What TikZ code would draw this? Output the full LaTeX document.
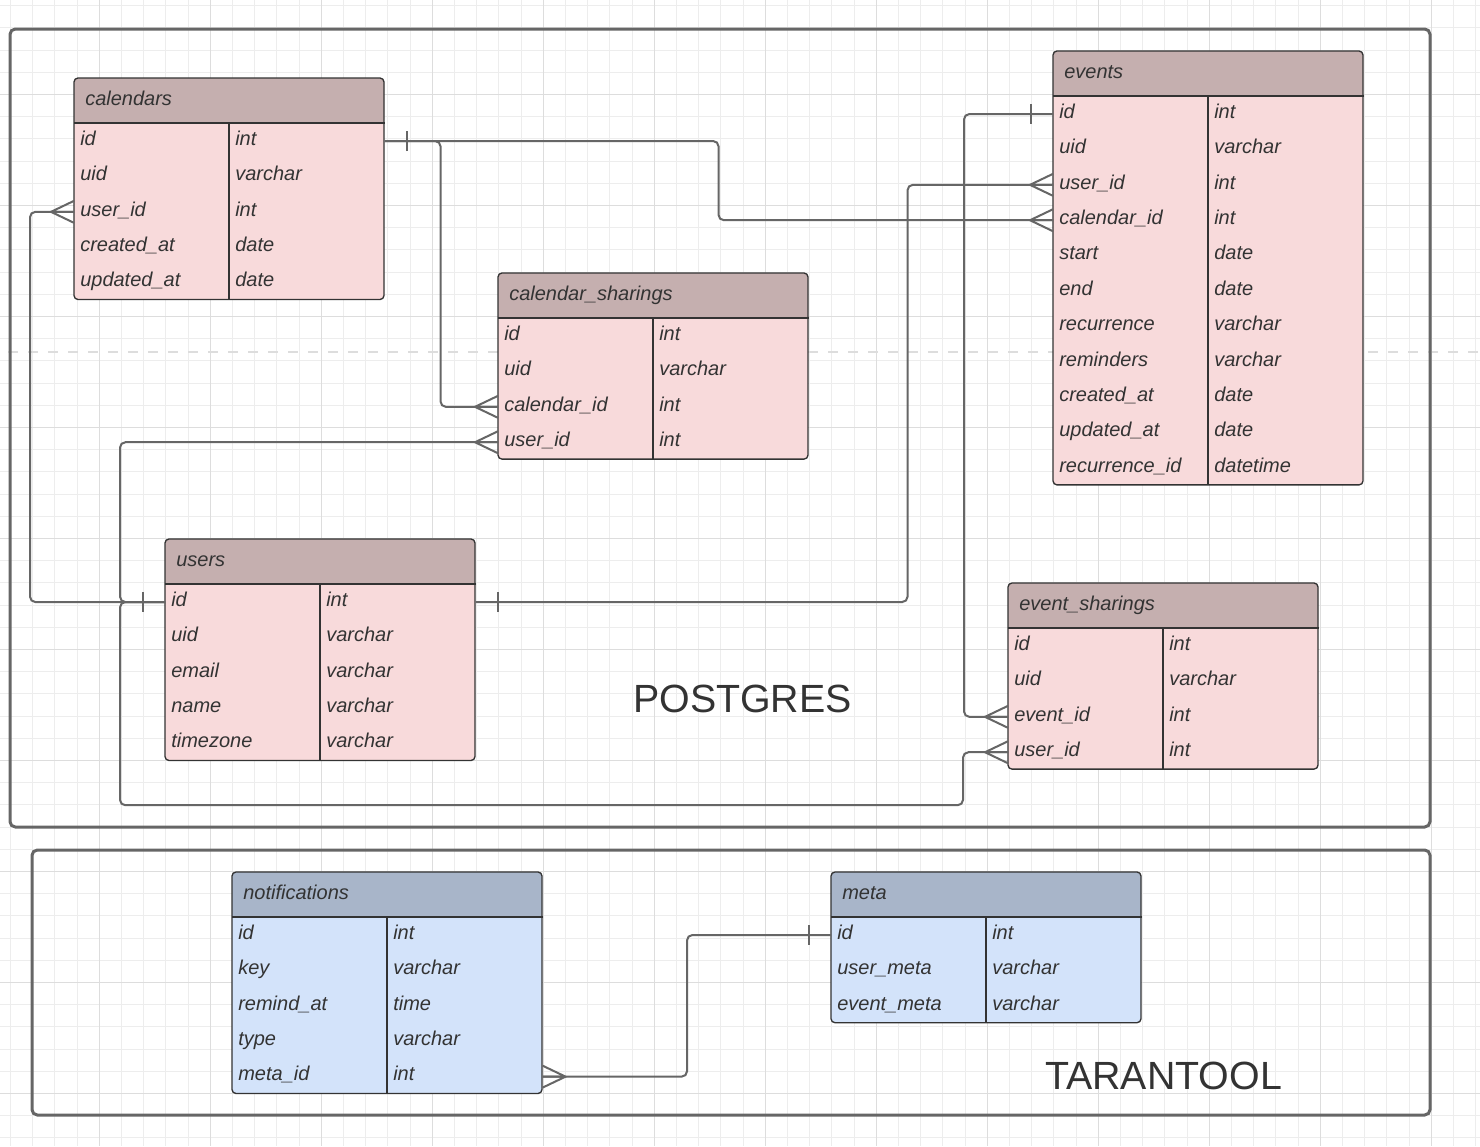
\documentclass[tikz,border=0pt]{standalone}
\usepackage{fontspec}
\setmainfont{Liberation Sans}
\usetikzlibrary{calc}

\definecolor{pghead}{HTML}{C5AFAF}
\definecolor{pgbody}{HTML}{F8DADB}
\definecolor{tthead}{HTML}{A8B5C9}
\definecolor{ttbody}{HTML}{D3E3FA}
\definecolor{inkgray}{HTML}{333333}
\definecolor{relgray}{HTML}{666666}
\definecolor{gridminorc}{HTML}{EDEDED}
\definecolor{gridmajorc}{HTML}{DDDDDD}

\tikzset{
  gridminor/.style={draw=gridminorc, line width=0.75pt},
  gridmajor/.style={draw=gridmajorc, line width=0.9pt},
  pagebreak/.style={draw=gridmajorc, line width=2pt, dash pattern=on 7.5pt off 7.5pt},
  dbframe/.style={draw=relgray, line width=2.25pt, rounded corners=4pt},
  dbname/.style={text=inkgray, font=\fontsize{29.5pt}{32pt}\selectfont},
  tblline/.style={draw=inkgray, line width=1pt},
  tblhead/.style={anchor=north west, minimum width=232.5pt, minimum height=33.4pt,
    text width=216pt, inner xsep=8.25pt, align=left, text height=7pt, text depth=0pt,
    text=inkgray, font=\fontsize{15pt}{18pt}\selectfont\itshape},
  tblrow/.style={anchor=north west, minimum width=232.5pt, minimum height=26.55pt,
    text width=223.5pt, inner xsep=4.5pt, inner ysep=0pt, align=left,
    text height=6.5pt, text depth=0pt, text=inkgray, font=\fontsize{15pt}{18pt}\selectfont\itshape},
  tbltype/.style={anchor=west, inner xsep=4.5pt, inner ysep=0pt, text height=6.5pt,
    text depth=0pt, text=inkgray, font=\fontsize{15pt}{18pt}\selectfont\itshape},
  rel/.style={draw=relgray, line width=1.5pt, rounded corners=4pt},
  crowfoot/.pic={\draw[rel, sharp corners] (0,-11) -- (-23,0) -- (0,11) (-23,0) -- (0,0);},
  onebar/.pic={\draw[rel, sharp corners] (-22,-10) -- (-22,10);}
}

% #1 name, #2 top left, #3 pg/tt, #4 number of rows, #5 fields
\newcommand{\dbtable}[5]{%
  \fill[#3body, rounded corners=3pt] #2 rectangle ++(310,{44.5+#4*35.4});
  \fill[#3head, rounded corners=3pt] #2 rectangle ++(310,44.5);
  \fill[#3head] ($#2+(0,22)$) rectangle ++(310,22.5);
  \draw[tblline, rounded corners=3pt] #2 rectangle ++(310,{44.5+#4*35.4});
  \node[tblhead] (#1) at #2 {#1};
  \draw[tblline] (#1.south west) -- (#1.south east);
  \draw[tblline] ($(#1.south west)+(155,0)$) -- ++(0,{#4*35.4});
  \foreach \fld/\typ [count=\i] in {#5} {
    \node[tblrow] (#1-\fld) at ($(#1.south west)+(0,{(\i-1)*35.4})$) {\fld};
    \node[tbltype] (#1-\fld-t) at ($(#1-\fld.west)+(155,0)$) {\typ};
  }
}

\begin{document}
\catcode`\_=12
\begin{tikzpicture}[x=0.75pt, y=-0.75pt]
  \useasboundingbox (0,0) rectangle (1480,1146);
  \fill[white] (0,0) rectangle (1480,1146);
  % grid
  \foreach \k in {1,...,67} \draw[gridminor] ({-11.7+22.2*\k},0) -- ++(0,1146);
  \foreach \k in {1,...,52} \draw[gridminor] (0,{-16.6+22.2*\k}) -- ++(1480,0);
  \foreach \k in {1,...,13} \draw[gridmajor] ({-11.7+111*\k},0) -- ++(0,1146);
  \foreach \k in {1,...,10} \draw[gridmajor] (0,{-16.6+111*\k}) -- ++(1480,0);
  \draw[pagebreak] (-11.7,352) -- (1480,352);

  % databases
  \draw[dbframe] (10,29) rectangle (1430,827);
  \draw[dbframe] (32,850) rectangle (1430,1115);
  \node[dbname] (postgres) at (742.5,699) {POSTGRES};
  \node[dbname] (tarantool) at (1163.5,1076) {TARANTOOL};

  % tables
  \dbtable{calendars}{(74,78)}{pg}{5}{id/int, uid/varchar, user_id/int, created_at/date, updated_at/date}
  \dbtable{calendar_sharings}{(498,273)}{pg}{4}{id/int, uid/varchar, calendar_id/int, user_id/int}
  \dbtable{events}{(1053,51)}{pg}{11}{id/int, uid/varchar, user_id/int, calendar_id/int, start/date, end/date, recurrence/varchar, reminders/varchar, created_at/date, updated_at/date, recurrence_id/datetime}
  \dbtable{users}{(165,539)}{pg}{5}{id/int, uid/varchar, email/varchar, name/varchar, timezone/varchar}
  \dbtable{event_sharings}{(1008,583)}{pg}{4}{id/int, uid/varchar, event_id/int, user_id/int}
  \dbtable{notifications}{(232,872)}{tt}{5}{id/int, key/varchar, remind_at/time, type/varchar, meta_id/int}
  \dbtable{meta}{(831,872)}{tt}{3}{id/int, user_meta/varchar, event_meta/varchar}

  % relations
  \draw[rel] (calendars-id.east) pic[rotate=180]{onebar} -- ++(334,0) |- (events-calendar_id.west) pic{crowfoot};
  \draw[rel] (calendars-id.east) -- ++(56,0) |- (calendar_sharings-calendar_id.west) pic{crowfoot};
  \draw[rel] (users-id.west) pic{onebar} -- ++(-135,0) |- (calendars-user_id.west) pic{crowfoot};
  \draw[rel] (users-id.west) -- ++(-45,0) |- (calendar_sharings-user_id.west) pic{crowfoot};
  \draw[rel] (users-id.west) -- ++(-45,0) |- ($(event_sharings-user_id.west)+(-45,53)$)
    |- (event_sharings-user_id.west) pic{crowfoot};
  \draw[rel] (users-id.east) pic[rotate=180]{onebar} -- ++(432,0) |- (events-user_id.west) pic{crowfoot};
  \draw[rel] (events-id.west) pic{onebar} -- ++(-89,0) |- (event_sharings-event_id.west) pic{crowfoot};
  \draw[rel] (meta-id.west) pic{onebar} -- ++(-144,0) |- (notifications-meta_id.east) pic[rotate=180]{crowfoot};
\end{tikzpicture}
\end{document}
